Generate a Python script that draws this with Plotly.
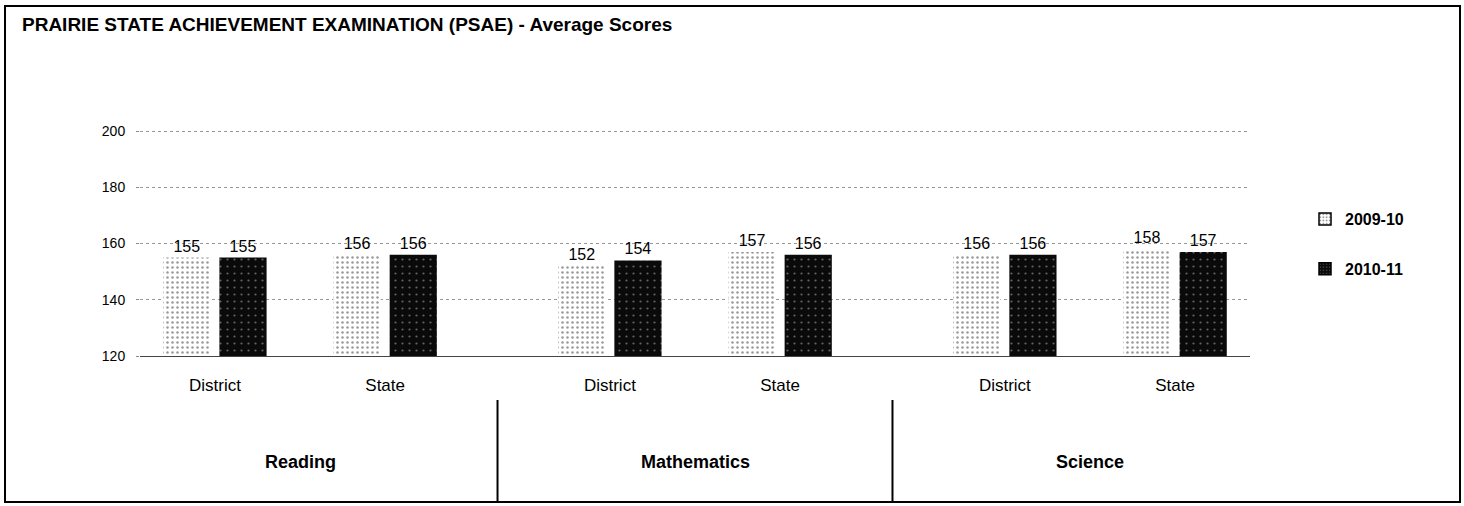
import plotly.graph_objects as go

# ---- data ----
subjects = ["Reading", "Mathematics", "Science"]
groups = ["District", "State"]
years = ["2009-10", "2010-11"]
scores_2009_10 = [155, 156, 152, 157, 156, 158]
scores_2010_11 = [155, 156, 154, 156, 156, 157]
y_ticks = [120, 140, 160, 180, 200]

# category positions (District/State pairs, with a wider gap between subjects)
subject_step = 2.32
xpos = []
for si, _ in enumerate(subjects):
    for gi, _ in enumerate(groups):
        xpos.append(si * subject_step + gi)
tick_text = [g for _ in subjects for g in groups]

FONT = "Liberation Sans, Arial, sans-serif"

light_pattern = dict(shape=".", fgcolor="#333", bgcolor="#ffffff", size=5, solidity=0.2)
dark_pattern = dict(shape=".", fgcolor="#bbbbbb", bgcolor="#0a0a0a", size=7, solidity=0.08)

fig = go.Figure()
fig.add_trace(go.Bar(
    x=xpos, y=scores_2009_10, name=years[0], showlegend=False, offsetgroup="a",
    marker=dict(color="#f7f7f7", line=dict(width=0), pattern=light_pattern),
    text=[str(v) for v in scores_2009_10], textposition="outside",
    textfont=dict(family=FONT, size=16, color="#000"),
))
fig.add_trace(go.Bar(
    x=xpos, y=scores_2010_11, name=years[1], showlegend=False, offsetgroup="b",
    marker=dict(color="#111", line=dict(width=0), pattern=dark_pattern),
    text=[str(v) for v in scores_2010_11], textposition="outside",
    textfont=dict(family=FONT, size=16, color="#000"),
))
# legend entries (bordered swatches, as in the original key)
fig.add_trace(go.Bar(x=[None], y=[None], name=years[0], legendgroup="a", offsetgroup="a",
                     marker=dict(color="#f7f7f7", line=dict(width=1.5, color="#000"),
                                 pattern=dict(shape=".", fgcolor="#333", bgcolor="#ffffff",
                                              size=4, solidity=0.3))))
fig.add_trace(go.Bar(x=[None], y=[None], name=years[1], legendgroup="b", offsetgroup="b",
                     marker=dict(color="#111", line=dict(width=1.5, color="#000"),
                                 pattern=dict(shape=".", fgcolor="#bbbbbb", bgcolor="#0a0a0a",
                                              size=4, solidity=0.15))))

# plot area geometry (pixels)
W, H = 1464, 506
y_lo, y_hi = 120, 200.4
L, R, T, B = 140, 214, 130, 150
pw, ph = W - L - R, H - T - B

def px_to_paper_x(px):
    return (px - L) / pw

def px_to_paper_y(py):
    return (H - B - py) / ph

shapes = []
# outer frame
shapes.append(dict(type="rect", xref="paper", yref="paper",
                   x0=px_to_paper_x(5), x1=px_to_paper_x(1460),
                   y0=px_to_paper_y(502), y1=px_to_paper_y(6),
                   line=dict(color="#000", width=2)))
# dividers between subjects
for si in range(len(subjects) - 1):
    xm = (xpos[2 * si + 1] + xpos[2 * si + 2]) / 2
    shapes.append(dict(type="line", xref="x", yref="paper",
                       x0=xm, x1=xm, y0=px_to_paper_y(400), y1=px_to_paper_y(502),
                       line=dict(color="#000", width=2)))

annotations = []
for si, s in enumerate(subjects):
    xm = (xpos[2 * si] + xpos[2 * si + 1]) / 2
    annotations.append(dict(x=xm, xref="x", y=px_to_paper_y(462), yref="paper",
                            text="<b>" + s + "</b>", showarrow=False,
                            font=dict(family=FONT, size=18, color="#000"),
                            xanchor="center", yanchor="middle"))

fig.update_layout(
    width=W, height=H,
    margin=dict(l=L, r=R, t=T, b=B, autoexpand=False),
    paper_bgcolor="white", plot_bgcolor="white",
    title=dict(text="<b>PRAIRIE STATE ACHIEVEMENT EXAMINATION (PSAE) - Average Scores</b>",
               xref="container", yref="container", x=22 / W, xanchor="left",
               y=1 - 24 / H, yanchor="middle",
               font=dict(family=FONT, size=19, color="#000")),
    barmode="group", bargap=0.34, bargroupgap=0.16,
    showlegend=True,
    legend=dict(x=px_to_paper_x(1305), xanchor="left",
                y=px_to_paper_y(202), yanchor="top",
                font=dict(family=FONT, size=16, color="#000", weight="bold"),
                tracegroupgap=26, traceorder="grouped", itemwidth=30,
                bgcolor="rgba(0,0,0,0)"),
    shapes=shapes, annotations=annotations,
    font=dict(family=FONT, color="#000"),
)

fig.update_xaxes(range=[-0.44, 6.08], tickvals=xpos, ticktext=tick_text,
                 ticks="", ticklabelstandoff=14, showgrid=False, zeroline=False,
                 showline=True, linecolor="#444", linewidth=1,
                 tickfont=dict(family=FONT, size=17, color="#000"))
fig.update_yaxes(range=[y_lo, y_hi], tickvals=y_ticks, ticks="outside", ticklen=3,
                 tickcolor="#888", ticklabelstandoff=8,
                 showgrid=True, gridcolor="#999", griddash="dot", gridwidth=1,
                 zeroline=False, showline=False,
                 tickfont=dict(family=FONT, size=14, color="#000"))

fig.write_html("out.html", config={"displayModeBar": False},
               post_script="document.body.style.margin='0';document.body.style.overflow='hidden';")
